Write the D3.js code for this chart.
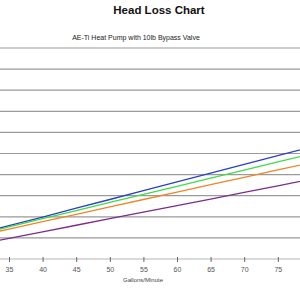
<!DOCTYPE html>
<html lang="en">
<head>
  <meta charset="UTF-8" />
  <script src="https://d3js.org/d3.v7.min.js"></script>
  <title>Head Loss Chart</title>
  <style>
    body { margin: 0; background: #fff; }
    text { font-family: "Liberation Sans", Arial, sans-serif; }
  </style>
</head>
<body>
<script type="text/javascript">
var width = 300;
var height = 300;

// gallons per minute
var gpm = [30, 35, 40, 45, 50, 55, 60, 65, 70, 75, 80];
// head loss (y axis labels are cut off)
var blue   = [1.17, 1.58, 1.99, 2.41, 2.82, 3.24, 3.66, 4.07, 4.49, 4.90, 5.31];
var green  = [1.14, 1.52, 1.91, 2.29, 2.68, 3.06, 3.44, 3.83, 4.21, 4.60, 4.98];
var orange = [1.07, 1.42, 1.77, 2.12, 2.47, 2.82, 3.17, 3.52, 3.87, 4.22, 4.57];
var purple = [0.67, 0.98, 1.29, 1.60, 1.91, 2.22, 2.53, 2.84, 3.16, 3.47, 3.78];
var xTicks = [35, 40, 45, 50, 55, 60, 65, 70, 75];
var yTicks = [0, 1, 2, 3, 4, 5, 6, 7, 8, 9, 10];

var series = [
  {name: "blue", values: blue, color: "#2b3fc8"},
  {name: "green", values: green, color: "#3fdc45"},
  {name: "orange", values: orange, color: "#f0842a"},
  {name: "purple", values: purple, color: "#7b2c8c"}
];

var svg = d3.select("body").append("svg").attr("width", width).attr("height", height);

var x = d3.scaleLinear().domain([30, 80]).range([-24.6, 311.4]);
var y = d3.scaleLinear().domain([0, 10]).range([259, 48]);

svg.append("text").attr("x", 159).attr("y", 14)
  .attr("text-anchor", "middle").attr("font-size", 11.5).attr("font-weight", "bold")
  .attr("fill", "#111").text("Head Loss Chart");

svg.append("text").attr("x", 136).attr("y", 40)
  .attr("text-anchor", "middle").attr("font-size", 7).attr("fill", "#222")
  .text("AE-Ti Heat Pump with 10lb Bypass Valve");

// gridlines
svg.append("g").selectAll("line").data(yTicks.slice(1)).enter().append("line")
  .attr("x1", 0).attr("x2", width)
  .attr("y1", function(d){ return y(d); }).attr("y2", function(d){ return y(d); })
  .attr("stroke", "#9a9a9a").attr("stroke-width", 1.2);

// x axis
var xAxis = svg.append("g")
  .attr("transform", "translate(0," + y(0) + ")")
  .call(d3.axisBottom(x).tickValues(xTicks).tickSize(3).tickPadding(5).tickSizeOuter(0));
xAxis.select(".domain").attr("d", "M0,0H" + width).attr("stroke", "#b5b5b5");
xAxis.selectAll(".tick line").attr("y1", -2).attr("y2", 3).attr("stroke", "#666");
xAxis.selectAll(".tick text").attr("font-size", 7).attr("fill", "#555")
  .attr("font-family", "Liberation Sans, Arial, sans-serif");

svg.append("text").attr("x", 143).attr("y", 282)
  .attr("text-anchor", "middle").attr("font-size", 6).attr("fill", "#444")
  .text("Gallons/Minute");

var line = d3.line()
  .x(function(d, i){ return x(gpm[i]); })
  .y(function(d){ return y(d); });

svg.append("g").selectAll("path").data(series).enter().append("path")
  .attr("d", function(d){ return line(d.values); })
  .attr("fill", "none")
  .attr("stroke", function(d){ return d.color; })
  .attr("stroke-width", 1.3);
</script>
</body>
</html>
